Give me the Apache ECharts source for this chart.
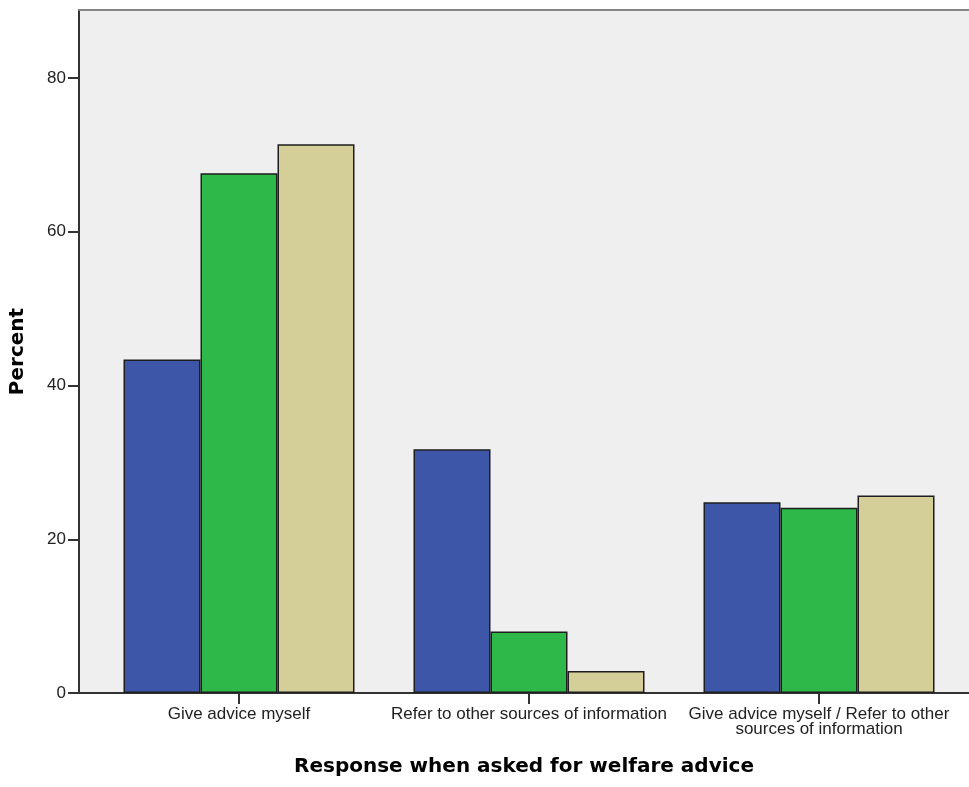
<!DOCTYPE html>
<html>
<head>
<meta charset="utf-8">
<script src="https://cdn.jsdelivr.net/npm/echarts@6/dist/echarts.min.js"></script>
<style>
html,body{margin:0;padding:0;background:#ffffff;}
#chart{width:969px;height:787px;}
</style>
</head>
<body>
<div id="chart"></div>
<script>
// Data
var categories = [
  'Give advice myself',
  'Refer to other sources of information',
  'Give advice myself / Refer to other\nsources of information'
];
var seriesA = [43.4, 31.7, 24.8];   // blue
var seriesB = [67.6, 8.0, 24.1];    // green
var seriesC = [71.4, 2.85, 25.7];   // tan
var yTicks = [0, 20, 40, 60, 80];
var xTicks = [0, 1, 2];

var colors = ['#3d56a8', '#2eb84a', '#d4ce98'];

function toPoints(arr) {
  return arr.map(function (v, i) { return [i, v]; });
}

var chart = echarts.init(document.getElementById('chart'));
var labelFont = 'Liberation Sans, Arial, sans-serif';
var titleFont = 'DejaVu Sans, Verdana, sans-serif';

function barSeries(arr, color) {
  return {
    type: 'bar',
    data: toPoints(arr),
    barWidth: 77,
    barGap: '0%',
    itemStyle: { color: color, borderColor: '#1e1e1e', borderWidth: 1.5 },
    emphasis: { disabled: true },
    animation: false
  };
}

var xMin = -0.5517, xMax = 2.5172;

chart.setOption({
  animation: false,
  grid: {
    left: 79, right: 0, top: 10, bottom: 94,
    show: true,
    backgroundColor: '#efefef',
    borderWidth: 0
  },
  xAxis: [{
    type: 'value',
    min: xMin,
    max: xMax,
    name: 'Response when asked for welfare advice',
    nameLocation: 'middle',
    nameGap: 64,
    nameTextStyle: { fontFamily: titleFont, fontWeight: 'bold', fontSize: 20, color: '#000' },
    axisLine: { show: true, onZero: false, lineStyle: { color: '#333', width: 2 } },
    axisTick: { show: true, customValues: xTicks, length: 11, lineStyle: { color: '#333', width: 2 } },
    axisLabel: {
      customValues: xTicks,
      formatter: function (v) { return categories[Math.round(v)]; },
      fontFamily: labelFont, fontSize: 17, color: '#222', lineHeight: 15, margin: 14
    },
    splitLine: { show: false }
  }, {
    type: 'value',
    position: 'top',
    min: xMin,
    max: xMax,
    axisLine: { show: true, onZero: false, lineStyle: { color: '#858585', width: 2 } },
    axisTick: { show: false },
    axisLabel: { show: false },
    splitLine: { show: false }
  }],
  yAxis: {
    type: 'value',
    min: 0,
    max: 88.85,
    name: 'Percent',
    nameLocation: 'middle',
    nameGap: 51,
    nameRotate: 90,
    nameTextStyle: { fontFamily: titleFont, fontWeight: 'bold', fontSize: 20, color: '#000' },
    axisLine: { show: true, onZero: false, lineStyle: { color: '#333', width: 2 } },
    axisTick: { show: true, customValues: yTicks, length: 11, lineStyle: { color: '#333', width: 2 } },
    axisLabel: {
      customValues: yTicks,
      fontFamily: labelFont, fontSize: 17, color: '#222', margin: 13
    },
    splitLine: { show: false }
  },
  series: [
    barSeries(seriesA, colors[0]),
    barSeries(seriesB, colors[1]),
    barSeries(seriesC, colors[2])
  ]
});
</script>
</body>
</html>
